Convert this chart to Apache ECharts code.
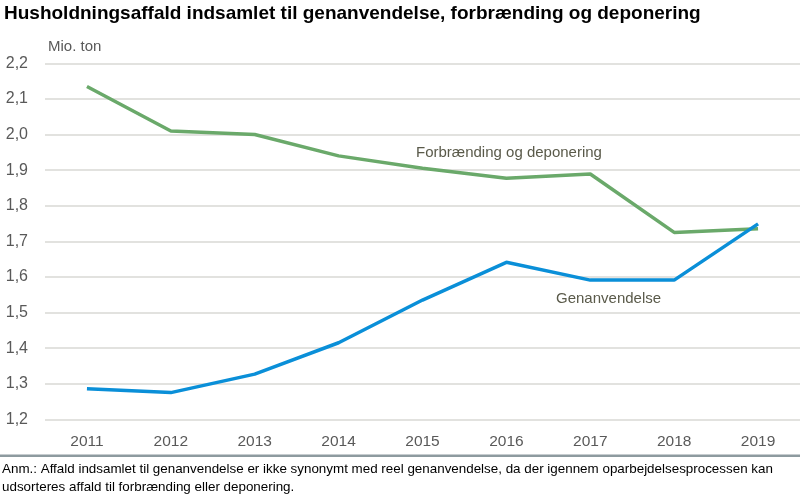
<!DOCTYPE html>
<html>
<head>
<meta charset="utf-8">
<script src="https://cdn.jsdelivr.net/npm/echarts@6/dist/echarts.min.js"></script>
<style>
html,body{margin:0;padding:0;background:#fff;}
#chart{width:800px;height:494px;}
</style>
</head>
<body>
<div id="chart"></div>
<script>
var years = ['2011','2012','2013','2014','2015','2016','2017','2018','2019'];
var forbraending = [2.135, 2.01, 2.0, 1.94, 1.905, 1.877, 1.889, 1.725, 1.735];
var genanvendelse = [1.286, 1.275, 1.327, 1.415, 1.535, 1.641, 1.591, 1.591, 1.749];
var title = 'Husholdningsaffald indsamlet til genanvendelse, forbrænding og deponering';
var unitLabel = 'Mio. ton';
var note1 = 'Anm.: Affald indsamlet til genanvendelse er ikke synonymt med reel genanvendelse, da der igennem oparbejdelsesprocessen kan';
var note2 = 'udsorteres affald til forbrænding eller deponering.';

var narrow = '"Liberation Sans Narrow", "Arial Narrow", "Liberation Sans", sans-serif';
var chart = echarts.init(document.getElementById('chart'));
chart.setOption({
  animation: false,
  backgroundColor: '#ffffff',
  grid: {left: 45, right: 0, top: 63.3, bottom: 74.7, containLabel: false},
  xAxis: {
    type: 'category', data: years, boundaryGap: true,
    axisLine: {show: false}, axisTick: {show: false},
    axisLabel: {color: '#595959', fontSize: 15.5, fontFamily: narrow, margin: 14}
  },
  yAxis: {
    type: 'value', min: 1.2, max: 2.2, interval: 0.1,
    axisLine: {show: false}, axisTick: {show: false},
    splitLine: {lineStyle: {color: '#d9d9d4', width: 1.5}},
    axisLabel: {color: '#595959', fontSize: 16, fontFamily: narrow, margin: 17,
      formatter: function(v){ return v.toFixed(1).replace('.', ','); }}
  },
  series: [
    {name: 'Forbrænding og deponering', type: 'line', data: forbraending, symbol: 'none',
      lineStyle: {color: '#6aa96a', width: 3.5}, z: 2},
    {name: 'Genanvendelse', type: 'line', data: genanvendelse, symbol: 'none',
      lineStyle: {color: '#0a8fd8', width: 3.5}, z: 3}
  ],
  graphic: [
    {type: 'text', left: 4, top: 4, style: {text: title, fill: '#000', font: 'bold 19px ' + narrow}},
    {type: 'text', left: 48, top: 39, style: {text: unitLabel, fill: '#595959', font: '15px ' + narrow}},
    {type: 'text', left: 416, top: 145, style: {text: 'Forbrænding og deponering', fill: '#5a5a4a', font: '15px ' + narrow}},
    {type: 'text', left: 556, top: 291, style: {text: 'Genanvendelse', fill: '#5a5a4a', font: '15px ' + narrow}},
    {type: 'rect', shape: {x: 0, y: 454.5, width: 800, height: 2.5}, style: {fill: '#8d9a9f'}},
    {type: 'text', left: 2, top: 460, style: {text: note1 + '\n' + note2, fill: '#000', font: '13.4px "Liberation Sans", Arial, sans-serif', lineHeight: 18}}
  ]
});
</script>
</body>
</html>
